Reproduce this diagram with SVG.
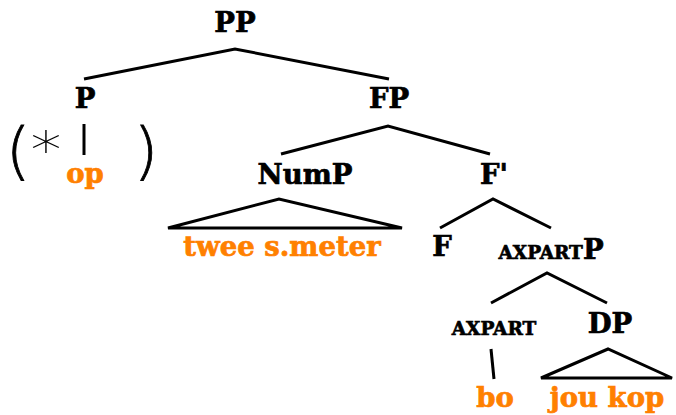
<svg xmlns="http://www.w3.org/2000/svg" width="676" height="415" viewBox="0 0 676 415">
<style>
.n{font-family:"DejaVu Serif",serif;font-weight:bold;font-size:27.5px;fill:#000;stroke:#000;stroke-width:0.7;text-anchor:middle}
.sc{font-size:18.5px}
.o{fill:#FF8000;stroke:#FF8000}
.e{stroke:#000;stroke-width:3;fill:none;stroke-linejoin:miter}
.par{font-family:"DejaVu Sans",sans-serif;font-weight:200;font-size:63px;fill:#000;stroke:#000;stroke-width:0.8;text-anchor:middle}
</style>
<rect width="676" height="415" fill="#fff"/>
<g id="connectors">
<polyline class="e" points="84,79 235,49 389,79"/>
<polyline class="e" points="281,154 388,126 490,154"/>
<line class="e" x1="84" y1="124" x2="84" y2="155"/>
<polygon class="e" points="168,228 279,199 402,228"/>
<polyline class="e" points="440,228 493,199 551,228"/>
<polyline class="e" points="491,303 547,273 607,303"/>
<line class="e" x1="491" y1="349" x2="494" y2="379"/>
<polygon class="e" points="541,378 608,349 672,378"/>
</g>
<g id="PP"><text class="n" x="235" y="32">PP</text></g>
<g id="P"><text class="n" x="85" y="108">P</text></g>
<g id="FP"><text class="n" x="389" y="108">FP</text></g>
<g id="op-group">
<text class="par" x="18" y="172">(</text>
<text class="par" x="146" y="172">)</text>
<text x="0" y="0" transform="translate(46,167) scale(1.35,1.1)" style="font-family:'DejaVu Sans',sans-serif;font-weight:200;font-size:46px;fill:#000;text-anchor:middle">*</text>
<text class="n o" x="85" y="183">op</text>
</g>
<g id="NumP"><text class="n" x="305" y="184">NumP</text></g>
<g id="Fbar"><text class="n" x="494" y="184">F'</text></g>
<g id="twee"><text class="n o" x="282" y="256">twee s.meter</text></g>
<g id="F"><text class="n" x="442" y="256">F</text></g>
<g id="AXPARTP"><text class="n" x="551" y="259"><tspan class="sc">AXPART</tspan>P</text></g>
<g id="AXPART"><text class="n sc" x="494" y="335">AXPART</text></g>
<g id="DP"><text class="n" x="610" y="333">DP</text></g>
<g id="bo"><text class="n o" x="495" y="407">bo</text></g>
<g id="joukop"><text class="n o" x="607" y="407">jou kop</text></g>
</svg>
